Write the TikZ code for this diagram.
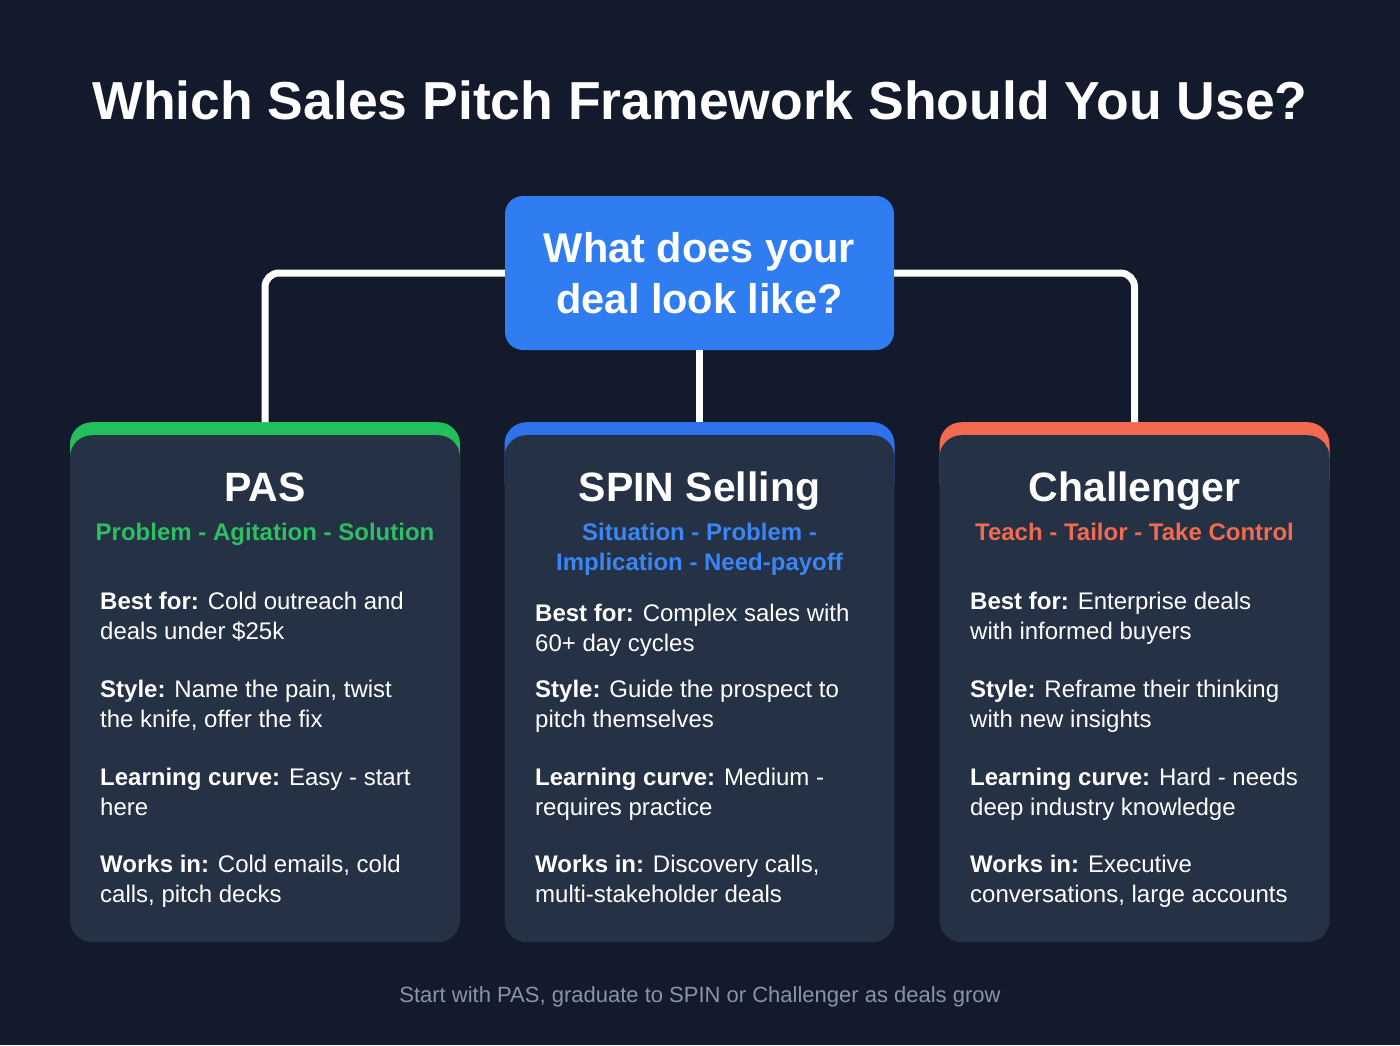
\documentclass[tikz,border=0pt]{standalone}
\usepackage{fontspec}
\setmainfont{Liberation Sans}
\definecolor{bgc}{HTML}{131A2B}
\definecolor{cardc}{HTML}{253144}
\definecolor{qblue}{HTML}{2F7DF0}
\definecolor{gband}{HTML}{22C05A}
\definecolor{bband}{HTML}{2F72EC}
\definecolor{oband}{HTML}{F26B50}
\definecolor{gsub}{HTML}{2DC060}
\definecolor{bsub}{HTML}{3B86F6}
\definecolor{osub}{HTML}{F26B50}
\definecolor{footc}{HTML}{8A94A8}
\begin{document}
\begin{tikzpicture}[x=1pt,y=-1pt,
  conn/.style={draw=white,line width=7pt,rounded corners=14pt},
  band/.style={rectangle,rounded corners=22pt,minimum width=390pt,minimum height=80pt,inner sep=0pt,anchor=north},
  card/.style={rectangle,rounded corners=22pt,fill=cardc,minimum width=390pt,minimum height=507pt,inner sep=0pt,anchor=north},
  cardtitle/.style={text=white,font=\fontsize{41}{46}\selectfont\bfseries,inner sep=0pt,anchor=base},
  cardsub/.style={font=\fontsize{24}{30}\selectfont\bfseries,inner sep=0pt,anchor=base,align=center},
  body/.style={text=white,font=\fontsize{24}{30}\selectfont,inner sep=0pt,anchor=base west,align=left},
]
\fill[bgc] (0,0) rectangle (1400,1045);
\useasboundingbox (0,0) rectangle (1400,1045);

\node[text=white,font=\fontsize{53.5}{60}\selectfont\bfseries,inner sep=0pt,anchor=base] (title) at (700,119) {Which Sales Pitch Framework Should You Use?};

\node[rectangle,rounded corners=18pt,fill=qblue,minimum width=389pt,minimum height=154pt,inner sep=0pt] (top) at (699.5,273) {};
\node[text=white,font=\fontsize{41.5}{51}\selectfont\bfseries,align=center,inner sep=0pt] (q) at (top.center) {What does your\\deal look like?};

% cards
\node[band,fill=gband] (pb) at (265,422) {};
\node[band,fill=bband] (sb) at (699.5,422) {};
\node[band,fill=oband] (cb) at (1134.5,422) {};
\node[card] (p) at (265,435) {};
\node[card] (s) at (699.5,435) {};
\node[card] (c) at (1134.5,435) {};

% connectors
\draw[conn] (top.west) -| (pb.north);
\draw[conn] (top.east) -| (cb.north);
\draw[conn] (top.south) -- (sb.north);

% PAS
\node[cardtitle] (pt) at (265,501) {PAS};
\node[cardsub,text=gsub] (ps) at (265,540) {Problem - Agitation - Solution};
\node[body] (p1) at (100,639) {\textbf{Best for:} Cold outreach and\\deals under \$25k};
\node[body] (p2) at (100,727) {\textbf{Style:} Name the pain, twist\\the knife, offer the fix};
\node[body] (p3) at (100,815) {\textbf{Learning curve:} Easy - start\\here};
\node[body] (p4) at (100,902) {\textbf{Works in:} Cold emails, cold\\calls, pitch decks};

% SPIN
\node[cardtitle] (st) at (699.5,501) {SPIN Selling};
\node[cardsub,text=bsub] (ss) at (699.5,570) {Situation - Problem -\\Implication - Need-payoff};
\node[body] (s1) at (535,651) {\textbf{Best for:} Complex sales with\\60+ day cycles};
\node[body] (s2) at (535,727) {\textbf{Style:} Guide the prospect to\\pitch themselves};
\node[body] (s3) at (535,815) {\textbf{Learning curve:} Medium -\\requires practice};
\node[body] (s4) at (535,902) {\textbf{Works in:} Discovery calls,\\multi-stakeholder deals};

% Challenger
\node[cardtitle] (ct) at (1134.5,501) {Challenger};
\node[cardsub,text=osub] (cs) at (1134.5,540) {Teach - Tailor - Take Control};
\node[body] (c1) at (970,639) {\textbf{Best for:} Enterprise deals\\with informed buyers};
\node[body] (c2) at (970,727) {\textbf{Style:} Reframe their thinking\\with new insights};
\node[body] (c3) at (970,815) {\textbf{Learning curve:} Hard - needs\\deep industry knowledge};
\node[body] (c4) at (970,902) {\textbf{Works in:} Executive\\conversations, large accounts};

\node[text=footc,font=\fontsize{22}{26}\selectfont,inner sep=0pt,anchor=base] (foot) at (700,1002) {Start with PAS, graduate to SPIN or Challenger as deals grow};
\end{tikzpicture}
\end{document}
